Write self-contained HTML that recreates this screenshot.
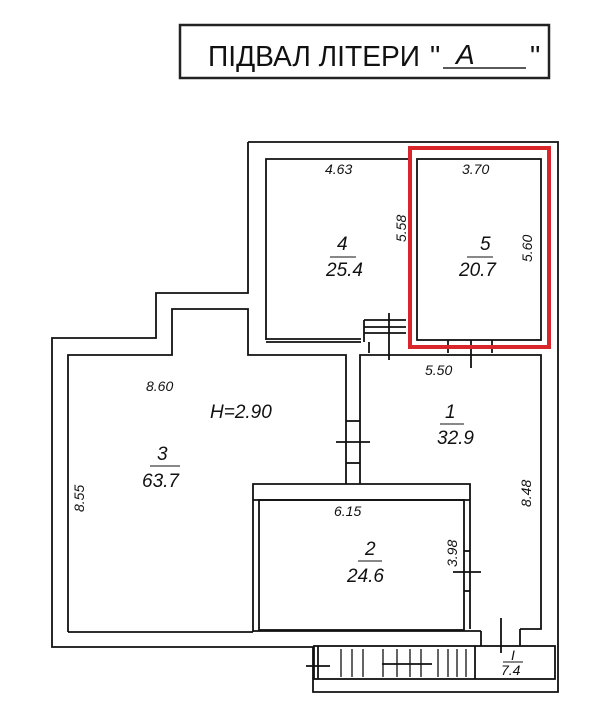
<!DOCTYPE html>
<html><head><meta charset="utf-8"><style>
html,body{margin:0;padding:0;background:#fff;}
svg{display:block;}
text{font-family:"Liberation Sans",sans-serif;fill:#111;}
.h{font-style:italic;}
</style></head><body>
<svg width="607" height="701" viewBox="0 0 607 701" xmlns="http://www.w3.org/2000/svg">
<rect width="607" height="701" fill="#fff"/>
<!-- title -->
<rect x="180" y="25" width="369" height="53" fill="none" stroke="#222" stroke-width="2.5"/>
<text x="208" y="66" font-size="29" textLength="212" lengthAdjust="spacingAndGlyphs">ПІДВАЛ ЛІТЕРИ</text>
<text x="430" y="66" font-size="29">"</text>
<text x="456" y="64" font-size="28" class="h">А</text>
<line x1="443" y1="68" x2="526" y2="68" stroke="#222" stroke-width="1.5"/>
<text x="530" y="66" font-size="29">"</text>

<g fill="none" stroke="#111" stroke-width="1.8">
<polyline points="248,142 558,142 558,692 313,692 313,647 52,647 52,338 156,338 156,293 248,293 248,142"/>
<polyline points="266,340 266,159 408,159"/>
<line x1="266" y1="339" x2="361" y2="339"/>
<line x1="266" y1="342" x2="361" y2="342"/>
<rect x="417" y="159" width="124" height="181"/>
<line x1="364" y1="320" x2="406" y2="320"/>
<line x1="364" y1="327" x2="406" y2="327"/>
<line x1="364" y1="333" x2="406" y2="333"/>
<line x1="364" y1="320" x2="364" y2="342"/>
<line x1="389" y1="313" x2="389" y2="360"/>
<line x1="369" y1="342" x2="369" y2="353"/>
<polyline points="68,632 68,355 172,355 172,309 248,309 248,355 346,355 346,484"/>
<line x1="68" y1="632" x2="253" y2="632"/>
<polyline points="360,484 360,355 541,355 541,629 520,629"/>
<polyline points="253,632 253,484 470,484 470,629"/>
<line x1="253" y1="500" x2="470" y2="500"/>
<rect x="259" y="500" width="205" height="130"/>
<line x1="336" y1="442" x2="370" y2="442"/>
<line x1="346" y1="421" x2="360" y2="421"/>
<line x1="346" y1="463" x2="360" y2="463"/>
<line x1="453" y1="572" x2="481" y2="572"/>
<line x1="464" y1="551" x2="470" y2="551"/>
<line x1="464" y1="591" x2="470" y2="591"/>
<line x1="471" y1="340" x2="471" y2="368"/>
<line x1="448" y1="340" x2="448" y2="353"/>
<line x1="492" y1="340" x2="492" y2="353"/>
<line x1="253" y1="631" x2="481" y2="631"/>
<line x1="481" y1="631" x2="481" y2="646"/>
<line x1="520" y1="629" x2="520" y2="646"/>
<line x1="501" y1="618" x2="501" y2="653"/>
<rect x="314" y="646" width="241" height="33"/>
<line x1="318" y1="646" x2="318" y2="679"/>
<line x1="475" y1="646" x2="475" y2="679"/>
<line x1="306" y1="666" x2="330" y2="666"/>
<line x1="382" y1="664" x2="432" y2="664"/>
</g>
<g stroke="#111" stroke-width="1.3">
<line x1="341" y1="649" x2="341" y2="677"/>
<line x1="352" y1="649" x2="352" y2="677"/>
<line x1="363" y1="649" x2="363" y2="677"/>
<line x1="383" y1="649" x2="383" y2="677"/>
<line x1="397" y1="649" x2="397" y2="677"/>
<line x1="410" y1="649" x2="410" y2="677"/>
<line x1="421" y1="649" x2="421" y2="677"/>
<line x1="438" y1="649" x2="438" y2="677"/>
<line x1="448" y1="649" x2="448" y2="677"/>
<line x1="457" y1="649" x2="457" y2="677"/>
<line x1="466" y1="649" x2="466" y2="677"/>
</g>
<rect x="410" y="148" width="139" height="199" fill="none" stroke="#d9262b" stroke-width="4"/>

<g class="h" font-size="14">
<text x="325" y="174">4.63</text>
<text x="462" y="174">3.70</text>
<text x="425" y="375">5.50</text>
<text x="146" y="391">8.60</text>
<text x="334" y="516">6.15</text>
<text x="0" y="0" transform="translate(406,242) rotate(-90)">5.58</text>
<text x="0" y="0" transform="translate(532,262) rotate(-90)">5.60</text>
<text x="0" y="0" transform="translate(84,512) rotate(-90)">8.55</text>
<text x="0" y="0" transform="translate(531,507) rotate(-90)">8.48</text>
<text x="0" y="0" transform="translate(457,567) rotate(-90)">3.98</text>
</g>
<g class="h" font-size="19">
<text x="210" y="418">H=2.90</text>
<text x="337" y="250">4</text><line x1="330" y1="257" x2="356" y2="257" stroke="#111"/>
<text x="326" y="276">25.4</text>
<text x="480" y="250">5</text><line x1="467" y1="257" x2="493" y2="257" stroke="#111"/>
<text x="459" y="276">20.7</text>
<text x="445" y="418">1</text><line x1="440" y1="424" x2="464" y2="424" stroke="#111"/>
<text x="437" y="444">32.9</text>
<text x="157" y="460">3</text><line x1="150" y1="466" x2="180" y2="466" stroke="#111"/>
<text x="142" y="487">63.7</text>
<text x="365" y="555">2</text><line x1="358" y1="561" x2="382" y2="561" stroke="#111"/>
<text x="347" y="582">24.6</text>
<text x="511" y="660" font-size="14">I</text><line x1="503" y1="662" x2="523" y2="662" stroke="#111"/>
<text x="501" y="675" font-size="14">7.4</text>
</g>
</svg>
</body></html>
